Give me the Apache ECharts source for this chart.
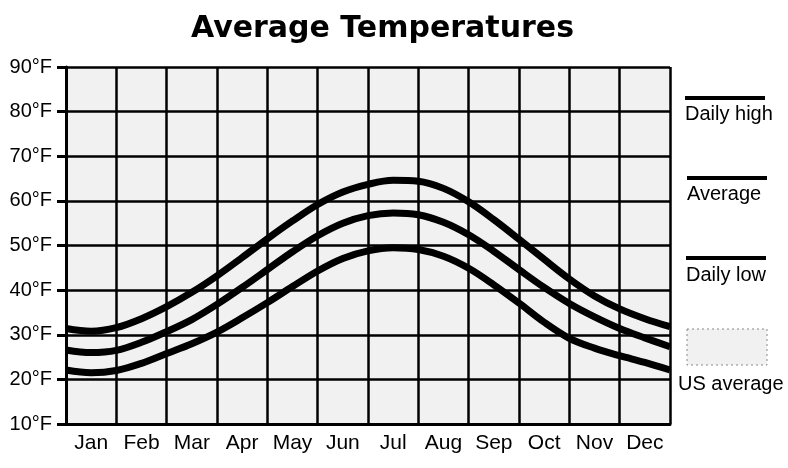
<!DOCTYPE html>
<html>
<head>
<meta charset="utf-8">
<script src="https://cdn.jsdelivr.net/npm/echarts@6/dist/echarts.min.js"></script>
<style>
  html, body { margin: 0; padding: 0; background: #fff; }
  #chart { width: 788px; height: 468px; }
</style>
</head>
<body>
<div id="chart"></div>
<script>
// month labels, one per column
const months = ['Jan', 'Feb', 'Mar', 'Apr', 'May', 'Jun', 'Jul', 'Aug', 'Sep', 'Oct', 'Nov', 'Dec'];

const readAt = [0, 0.5, 1, 1.5, 2, 2.5, 3, 3.5, 4, 4.5, 5, 5.5, 6,
                6.5, 7, 7.5, 8, 8.5, 9, 9.5, 10, 10.5, 11, 11.5, 12];

// temperatures in °F
const dailyHigh = [31.4, 30.8, 31.6, 33.6, 36.3, 39.5, 43.2, 47.3, 51.5, 55.5, 59.2, 62.0, 63.7,
                   64.6, 64.4, 62.8, 59.8, 55.8, 51.4, 46.9, 42.5, 38.7, 35.8, 33.6, 31.8];
const average   = [26.6, 26.0, 26.5, 28.3, 30.7, 33.4, 36.8, 40.6, 44.6, 48.6, 52.2, 55.0, 56.7,
                   57.3, 56.9, 55.2, 52.4, 48.7, 44.6, 40.6, 37.0, 34.0, 31.4, 29.3, 27.3];
const dailyLow  = [22.1, 21.5, 22.0, 23.6, 25.8, 28.0, 30.6, 33.8, 37.2, 40.8, 44.3, 47.1, 48.8,
                   49.5, 49.1, 47.6, 44.9, 41.2, 37.1, 32.8, 29.2, 27.0, 25.3, 23.8, 22.1];

const ink = '#000';
const plotFill = '#f1f1f1';

const chart = echarts.init(document.getElementById('chart'));

function curve(name, values) {
    return {
        name: name,
        type: 'line',
        xAxisIndex: 1,
        data: readAt.map((x, i) => [x, values[i]]),
        smooth: 0.35,
        symbol: 'none',
        lineStyle: { color: ink, width: 7 },
        animation: false,
        z: 5
    };
}

const legendText = { fill: ink, fontSize: 20, fontFamily: 'Liberation Sans, Arial, sans-serif' };

chart.setOption({
    backgroundColor: '#fff',
    animation: false,
    title: {
        text: 'Average Temperatures',
        left: 186,
        top: 9,
        textStyle: {
            fontFamily: 'DejaVu Sans, sans-serif',
            fontSize: 30,
            fontWeight: 'bold',
            color: ink
        }
    },
    grid: {
        left: 66,
        right: 118,
        top: 67,
        bottom: 44,
        show: true,
        backgroundColor: plotFill,
        borderWidth: 0
    },
    xAxis: [
        {
            type: 'category',
            data: months,
            boundaryGap: true,
            axisLine: { lineStyle: { color: ink, width: 3 } },
            axisTick: { interval: 0, length: 7, lineStyle: { color: ink, width: 3 } },
            splitLine: { show: true, interval: 0, lineStyle: { color: ink, width: 2.5 } },
            axisLabel: {
                interval: 0,
                color: ink,
                fontSize: 21,
                margin: 9,
                fontFamily: 'Liberation Sans, Arial, sans-serif'
            }
        },
        { type: 'value', min: 0, max: 12, show: false }
    ],
    yAxis: {
        type: 'value',
        min: 10,
        max: 90,
        interval: 10,
        axisLine: { show: true, lineStyle: { color: ink, width: 3 } },
        axisTick: { show: true, length: 9, lineStyle: { color: ink, width: 3 } },
        splitLine: { lineStyle: { color: ink, width: 2.5 } },
        axisLabel: {
            formatter: '{value}°F',
            color: ink,
            fontSize: 20,
            margin: 14,
            fontFamily: 'Liberation Sans, Arial, sans-serif'
        }
    },
    series: [
        curve('Daily high', dailyHigh),
        curve('Average', average),
        curve('Daily low', dailyLow)
    ],
    // hand-drawn legend: line above each name, swatch for the US average
    graphic: [
        { type: 'line', shape: { x1: 685, y1: 98, x2: 765, y2: 98 }, style: { stroke: ink, lineWidth: 4 } },
        { type: 'text', x: 685, y: 104, style: Object.assign({ text: 'Daily high' }, legendText) },
        { type: 'line', shape: { x1: 687, y1: 178, x2: 767, y2: 178 }, style: { stroke: ink, lineWidth: 4 } },
        { type: 'text', x: 687, y: 184, style: Object.assign({ text: 'Average' }, legendText) },
        { type: 'line', shape: { x1: 686, y1: 258, x2: 766, y2: 258 }, style: { stroke: ink, lineWidth: 4 } },
        { type: 'text', x: 686, y: 265, style: Object.assign({ text: 'Daily low' }, legendText) },
        {
            type: 'rect',
            shape: { x: 687, y: 329, width: 80, height: 36 },
            style: { fill: plotFill, stroke: '#888', lineWidth: 1, lineDash: [2, 3] }
        },
        { type: 'text', x: 678, y: 374, style: Object.assign({ text: 'US average' }, legendText) }
    ]
});
</script>
</body>
</html>
